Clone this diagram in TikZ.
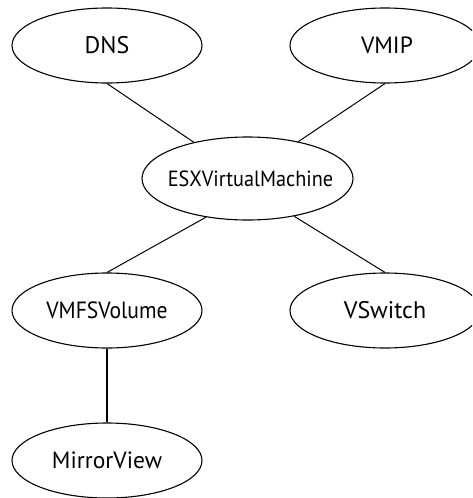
\documentclass[tikz,border=0pt]{standalone}
\usepackage{fontspec}
\setmainfont{PT Sans}
\newfontfamily\narrowsans[FakeStretch=0.92]{PT Sans}
\usetikzlibrary{shapes.geometric}
\begin{document}
\begin{tikzpicture}[x=1pt,y=-1pt,
  ent/.style={draw,ellipse,line width=1.1pt,inner sep=0pt,minimum width=190pt,minimum height=75pt},
  txt/.style={inner sep=0pt,font=\fontsize{#1}{#1}\selectfont},
  ntxt/.style={inner sep=0pt,font=\narrowsans\fontsize{#1}{#1}\selectfont},
  link/.style={line width=1pt}]
\useasboundingbox (0,0) rectangle (472,498);
\clip (0,0) rectangle (472,498);
\node[ent] (dns) at (107,45.5) {};
\node[txt=24] (dnst) at (dns.center) {DNS};
\node[ent] (vmip) at (385,45.5) {};
\node[txt=23.5] (vmipt) at ([xshift=2pt]vmip.center) {VMIP};
\node[ent,minimum width=211pt,minimum height=83pt] (esx) at (247.5,178.5) {};
\node[ntxt=22] (esxt) at ([xshift=3pt]esx.center) {ESXVirtualMachine};
\node[ent] (vmfs) at (107,310.5) {};
\node[ntxt=23.5] (vmfst) at (vmfs.center) {VMFSVolume};
\node[ent] (vsw) at (385,310.5) {};
\node[txt=24] (vswt) at (vsw.center) {VSwitch};
\node[ent] (mir) at (107,460.5) {};
\node[txt=23.5] (mirt) at (mir.center) {MirrorView};
\draw[link] (dns.south) -- (esx.146);
\draw[link] (vmip.south) -- (esx.36);
\draw[link] (esx.223) -- (vmfs.north);
\draw[link] (esx.321) -- (vsw.north);
\draw[line width=2pt] (vmfs.south) -- (mir.north);
\end{tikzpicture}
\end{document}
